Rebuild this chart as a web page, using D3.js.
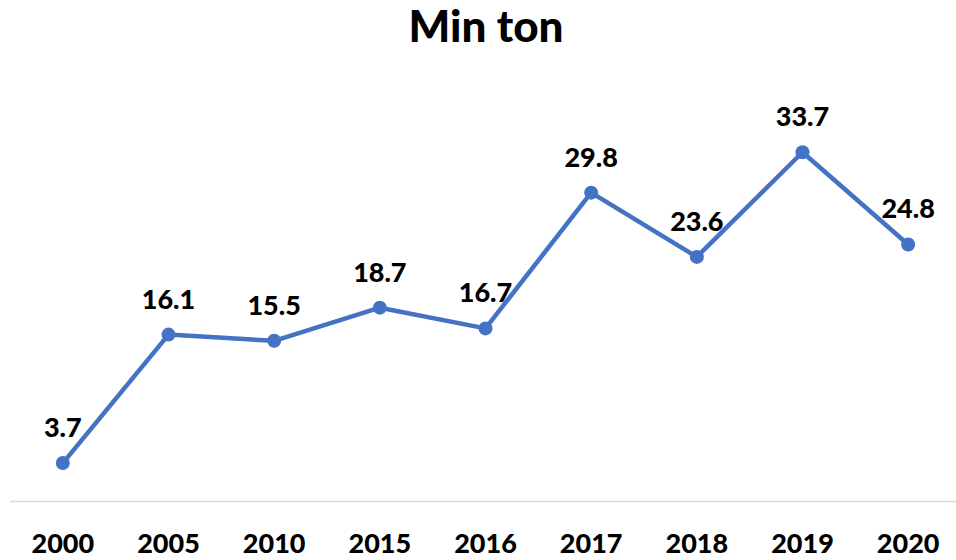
<!DOCTYPE html>
<html>
<head>
<meta charset="utf-8">
<script src="https://cdn.jsdelivr.net/npm/d3@7"></script>
<style>
  body { margin: 0; background: #fff; }
  text { font-family: Lato, "Open Sans", sans-serif; font-weight: bold; fill: #000; }
</style>
</head>
<body>
<div id="chart"></div>
<script>
// data
var years = ["2000", "2005", "2010", "2015", "2016", "2017", "2018", "2019", "2020"];
var values = [3.7, 16.1, 15.5, 18.7, 16.7, 29.8, 23.6, 33.7, 24.8];
var chartTitle = "Min ton";

function drawChart() {
  var width = 956;
  var height = 560;

  var margin = {
      top: 87,
      bottom: 58,
      left: 10,
      right: -5,
  };

  var svg = d3.select("#chart")
      .append("svg")
      .attr("width", width)
      .attr("height", height);

  var x = d3.scalePoint()
      .domain(years)
      .range([margin.left, width - margin.right])
      .padding(0.5);

  var y = d3.scaleLinear()
      .domain([0, 40])
      .range([height - margin.bottom - 0.6, margin.top]);

  // baseline axis
  svg.append("line")
      .attr("x1", margin.left)
      .attr("x2", width)
      .attr("y1", y(0))
      .attr("y2", y(0))
      .attr("stroke", "#d9d9d9")
      .attr("stroke-width", 1.5);

  svg.append("g")
      .selectAll("text")
      .data(years)
      .enter().append("text")
      .attr("x", function(d) { return x(d); })
      .attr("y", 553)
      .attr("text-anchor", "middle")
      .style("font-size", "27px")
      .style("font-weight", 900)
      .text(function(d) { return d; });

  var data = years.map(function(d, i) { return {year: d, value: values[i]}; });

  var line = d3.line()
      .x(function(d) { return x(d.year); })
      .y(function(d) { return y(d.value); });

  svg.append("path")
      .datum(data)
      .attr("fill", "none")
      .attr("stroke", "#4472c4")
      .attr("stroke-width", 4.5)
      .attr("stroke-linejoin", "round")
      .attr("d", line);

  svg.append("g")
      .selectAll("circle")
      .data(data)
      .enter().append("circle")
      .attr("cx", function(d) { return x(d.year); })
      .attr("cy", function(d) { return y(d.value); })
      .attr("r", 7)
      .attr("fill", "#4472c4");

  svg.append("g")
      .selectAll("text")
      .data(data)
      .enter().append("text")
      .attr("x", function(d) { return x(d.year); })
      .attr("y", function(d) { return y(d.value) - 26; })
      .attr("text-anchor", "middle")
      .style("font-size", "27px")
      .style("font-weight", 900)
      .text(function(d) { return d.value.toFixed(1); });

  svg.append("text")
      .attr("x", 486)
      .attr("y", 42)
      .attr("text-anchor", "middle")
      .style("font-size", "44px")
      .style("font-weight", 900)
      .text(chartTitle);
}

drawChart();
</script>
</body>
</html>
